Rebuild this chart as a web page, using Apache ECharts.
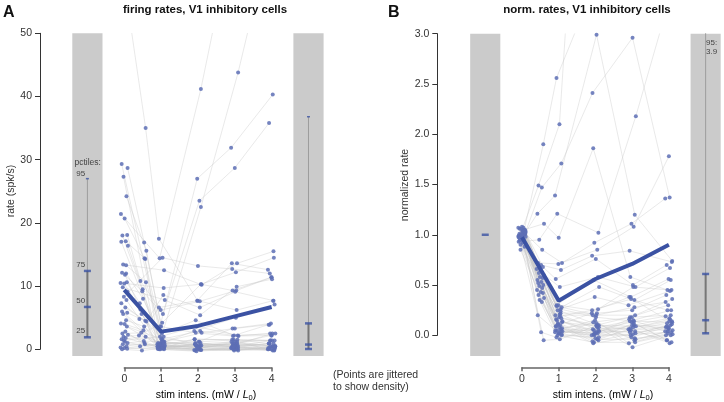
<!DOCTYPE html>
<html>
<head>
<meta charset="utf-8">
<script src="https://cdn.jsdelivr.net/npm/echarts@6/dist/echarts.min.js"></script>
<style>html,body{margin:0;padding:0;background:#fff}#c{width:724px;height:402px}</style>
</head>
<body>
<div id="c"></div>
<script>
// ---------- data ----------
const stimLevels = [0, 0.5, 1, 2, 3, 4];
const xTickLabels = ['0', '1', '2', '3', '4'];
const meanX = [0, 1, 2, 3, 4];

// Panel A: firing rates (spk/s), one entry per cell, per stimulus level
const rateA_0  = [57,29.3,28.7,27.3,24.2,21.4,20.7,18.1,18.0,17.1,17.0,16.4,13.4,13.3,12.1,11.8,10.6,10.5,10.4,9.8,9.1,8.3,7.8,7.3,6.6,6.0,5.8,5.6,4.6,4.1,4.0,3.6,2.5,2.3,2.0,1.8,1.6,1.2,1.0,0.8,0.5,0.3,0.2,0.1,0.0,2.8,1.4,12.0];
const rateA_05 = [35,null,16.9,null,15.6,null,14.4,10.8,null,14.3,null,9.5,null,10.6,9.2,null,7.3,null,6.3,null,5.6,null,4.8,null,4.5,null,4.4,null,3.6,null,3.0,null,2.6,null,2.2,null,2.0,null,1.3,null,1.0,null,0.5,null,-0.2,0.8,null,8.0];
const rateA_1  = [17.5,1.2,2.0,0.8,3.6,14.4,0.4,6.2,0.2,1.0,0.6,0.3,12.5,3.6,5.6,0.1,1.6,9.7,0.0,7.8,0.9,14.5,0.5,2.5,1.2,0.7,8.6,0.4,0.9,0.2,6.6,1.6,0.6,0.1,4.2,0.3,0.9,0.0,1.2,0.5,0.2,0.0,0.8,0.3,0.1,0.6,2.0,1.2];
const rateA_2  = [7.7,0.5,0.8,0.2,2.6,41.2,0.0,7.6,1.6,0.4,-0.1,0.6,10.2,27.0,23.5,0.8,1.2,10.3,-0.3,5.4,2.9,13.2,22.5,4.6,0.6,0.4,6.6,0.0,1.0,-0.1,7.7,2.9,1.6,0.2,10.3,0.6,1.2,-0.2,2.6,0.4,0.0,0.8,0.2,1.0,-0.1,0.2,3.6,0.6];
const rateA_3  = [6.2,0.2,1.2,0.0,2.1,70,-0.2,9.3,1.5,0.4,0.2,0.9,13.6,31.9,28.7,0.6,3.3,12.2,0.0,9.9,5.0,12.7,43.8,2.2,0.9,1.2,9.1,0.4,0.6,0.0,13.6,2.1,1.5,0.9,9.3,0.4,1.5,0.2,3.3,0.0,-0.2,0.6,1.2,0.4,0.0,0.9,2.2,0.4];
const rateA_4  = [7.7,0.9,0.5,0.2,2.5,null,0.0,11.4,1.4,0.9,-0.2,2.2,15.5,40.3,35.8,0.5,4.1,14.5,0.2,11.1,7.1,12.0,67,3.9,0.5,1.4,7.7,0.2,2.5,0.0,12.6,2.2,1.4,0.5,11.4,-0.1,0.9,0.4,3.9,0.2,0.5,0.9,0.0,1.4,-0.2,0.2,2.5,0.0];
const meanA = [9.4, 2.8, 3.7, 5.2, 6.7];

// Panel B: normalized rates
const normB_0  = [1.00,0.98,1.02,0.96,1.05,0.93,1.04,1.01,0.99,1.07,0.97,1.03,0.95,1.00,1.06,0.92,1.02,0.98,1.08,0.90,1.01,0.97,1.04,0.99,1.00,0.94,1.05,0.96,1.02,0.99,1.03,0.88,1.00,0.98,1.06,0.95,1.01,0.97,1.04,0.85,1.00,1.07,0.99,1.02,0.96,1.03,1.00,0.94];
const normB_05 = [1.90,1.49,1.47,1.21,1.11,0.95,0.85,0.72,0.70,0.68,0.66,0.65,0.62,0.60,0.58,0.57,0.55,0.53,0.52,0.50,0.49,0.47,0.45,0.43,0.42,0.40,0.37,0.35,0.33,0.20,0.03,-0.05,null,null,null,null,null,null,null,null,null,null,null,null,null,null,null,null];
const normB_1  = [2.56,2.10,1.71,1.39,0.97,1.21,0.72,0.71,0.65,0.56,0.48,0.30,0.28,0.25,0.22,0.20,0.18,0.17,0.15,0.14,0.12,0.10,0.09,0.08,0.07,0.05,0.04,0.03,0.02,0.00,-0.02,-0.04,0.30,0.26,0.21,0.16,0.13,0.11,0.06,0.05,0.02,0.01,0.29,0.19,0.09,0.04,0.00,0.24];
const normB_2  = [3.5,8.0,2.41,2.99,1.86,1.02,0.92,0.85,0.79,0.76,0.58,0.55,0.48,0.38,0.22,0.20,0.10,0.08,0.05,0.02,0.0,-0.03,-0.05,-0.08,0.12,0.15,0.08,0.03,0.06,-0.02,0.02,0.10,0.25,0.18,0.05,0.01,0.09,-0.06,0.04,0.00,-0.04,0.13,0.20,0.26,0.22,0.02,-0.07,0.10];
const normB_3  = [null,null,2.96,1.2,0.58,2.18,1.11,1.08,0.84,0.50,0.48,0.38,0.35,0.30,0.25,0.20,0.18,0.15,0.13,0.10,0.08,0.05,0.02,-0.02,-0.05,-0.08,-0.12,0.04,0.07,0.12,0.16,0.09,0.36,0.14,0.03,0.01,-0.03,0.06,0.10,0.00,-0.04,0.18,0.28,0.38,0.48,0.14,-0.07,0.05];
const normB_4  = [null,null,1.37,0.74,0.45,3.4,1.36,1.78,0.73,0.70,0.67,0.56,0.55,0.44,0.40,0.36,0.30,0.25,0.19,0.17,0.14,0.12,0.10,0.08,0.05,0.02,0.00,-0.05,-0.08,-0.07,0.04,0.07,0.25,0.13,0.06,0.03,0.0,0.16,0.09,0.11,0.04,0.20,0.33,0.14,0.45,-0.05,0.01,0.08];
const meanB = [0.975, 0.344, 0.56, 0.71, 0.90];

// jitter offsets (x) used to spread points
const jitter = [0.03,-0.07,0.09,-0.02,0.06,-0.09,0.01,0.08,-0.05,0.04,-0.08,0.10,-0.03,0.05,-0.06,0.02,0.07,-0.10,0.00,-0.04,0.09,-0.01,0.06,-0.08,0.03,-0.06,0.08,-0.03,0.05,-0.09,0.01,0.07,-0.05,0.10,-0.02,0.04,-0.07,0.02,0.09,-0.04,0.06,-0.10,0.00,0.08,-0.06,0.03,-0.01,0.05];

// percentiles (95, 75, 50, 25)
const pctLabels = ['95', '75', '50', '25'];
const pctA_left  = [27.0, 12.4, 6.7, 1.9];
const pctA_right = [36.8, 4.1, 0.75, 0.05];
const pctB_left  = [1.0, 1.0, 1.0, 1.0];
const pctB_right = [3.9, 0.61, 0.15, 0.02];

// ---------- build ----------
const FONT = 'Liberation Sans, Arial, sans-serif';
const BLUE = '#3b52a3';
const PT = '#5d6fb5';
const chart = echarts.init(document.getElementById('c'), null, {renderer: 'canvas'});

function cellLayers(cols, axIdx) {
  const out = [];
  const pts = [];
  const n = cols[0].length;
  for (let i = 0; i < n; i++) {
    const line = [];
    for (let k = 0; k < cols.length; k++) {
      const v = cols[k][i];
      if (v === null || v === undefined) continue;
      const p = [stimLevels[k] + jitter[(i + 7 * k) % jitter.length], v];
      line.push(p); pts.push(p);
    }
    out.push({type: 'line', xAxisIndex: axIdx, yAxisIndex: axIdx, data: line, symbol: 'none',
      lineStyle: {color: '#c8c8c8', width: 0.5, opacity: 0.8}, silent: true, z: 3, clip: true});
  }
  out.push({type: 'scatter', xAxisIndex: axIdx, yAxisIndex: axIdx, data: pts, symbolSize: 4,
    itemStyle: {color: PT, opacity: 0.85}, silent: true, z: 4, clip: true});
  return out;
}

function panelRects(axIdx, yLo, yHi) {
  return {type: 'custom', xAxisIndex: axIdx, yAxisIndex: axIdx, silent: true, z: 1,
    data: [[-1.41, -0.59, yLo, yHi], [4.59, 5.41, yLo, yHi]],
    renderItem: (params, api) => {
      const a = api.coord([api.value(0), api.value(3)]);
      const b = api.coord([api.value(1), api.value(2)]);
      return {type: 'rect', shape: {x: a[0], y: a[1], width: b[0] - a[0], height: b[1] - a[1]}, style: {fill: '#cbcbcb'}};
    }};
}

function pctBar(axIdx, cx, p, drawLine) {
  const s = [];
  if (drawLine) {
    s.push({type: 'line', xAxisIndex: axIdx, yAxisIndex: axIdx, data: [[cx, p[0]], [cx, p[3]]], symbol: 'none',
      lineStyle: {color: '#9c9c9c', width: 1}, silent: true, z: 5, clip: true});
    s.push({type: 'line', xAxisIndex: axIdx, yAxisIndex: axIdx, data: [[cx, p[1]], [cx, p[3]]], symbol: 'none',
      lineStyle: {color: '#777', width: 2}, silent: true, z: 5, clip: true});
  }
  s.push({type: 'scatter', xAxisIndex: axIdx, yAxisIndex: axIdx, data: [[cx, p[0]]], symbol: 'rect',
    symbolSize: [3, 1.5], itemStyle: {color: BLUE}, silent: true, z: 6, clip: true});
  s.push({type: 'scatter', xAxisIndex: axIdx, yAxisIndex: axIdx, data: p.slice(1).map(v => [cx, v]), symbol: 'rect',
    symbolSize: [7, 2.5], itemStyle: {color: BLUE}, silent: true, z: 6, clip: true});
  return s;
}

const series = [];
series.push(panelRects(0, -1.06, 50));
series.push(panelRects(3, -0.206, 3));
series.push(...cellLayers([rateA_0, rateA_05, rateA_1, rateA_2, rateA_3, rateA_4], 0));
series.push(...cellLayers([normB_0, normB_05, normB_1, normB_2, normB_3, normB_4], 3));
series.push({type: 'line', xAxisIndex: 0, yAxisIndex: 0, data: meanX.map((x, i) => [x, meanA[i]]), symbol: 'none',
  lineStyle: {color: BLUE, width: 4}, z: 7, silent: true});
series.push({type: 'line', xAxisIndex: 3, yAxisIndex: 3, data: meanX.map((x, i) => [x, meanB[i]]), symbol: 'none',
  lineStyle: {color: BLUE, width: 4}, z: 7, silent: true});
series.push(...pctBar(0, -1.0, pctA_left, true));
series.push(...pctBar(0, 5.0, pctA_right, true));
series.push({type: 'scatter', xAxisIndex: 3, yAxisIndex: 3, data: [[-1.0, pctB_left[1]]], symbol: 'rect',
  symbolSize: [7, 2.5], itemStyle: {color: BLUE}, silent: true, z: 6});
series.push(...pctBar(3, 5.0, pctB_right, true));

const hiddenX = (min, max, g) => ({type: 'value', gridIndex: g, min, max, show: false});
const hiddenY = (min, max, g) => ({type: 'value', gridIndex: g, min, max, show: false});
const axCol = '#333';
const shownY = (g, max, interval, fmt) => ({type: 'value', gridIndex: g, min: 0, max, interval,
  axisLine: {show: true, lineStyle: {color: axCol, width: 1}},
  axisTick: {show: true, length: 5, lineStyle: {color: axCol, width: 1}},
  axisLabel: {fontSize: 10.5, color: '#333', margin: 8, fontFamily: FONT, formatter: fmt},
  splitLine: {show: false}});
const shownX = (g) => ({type: 'value', gridIndex: g, min: 0, max: 4, interval: 1, position: 'bottom',
  axisLine: {show: true, onZero: false, lineStyle: {color: '#666', width: 1.5}},
  axisTick: {show: true, length: 4, lineStyle: {color: '#666', width: 1.5}},
  axisLabel: {fontSize: 10.5, color: '#333', margin: 6, fontFamily: FONT, formatter: v => xTickLabels[v]},
  splitLine: {show: false}});

const txt = (x, y, text, opts) => ({type: 'text', x, y, z: 100, rotation: (opts && opts.rot) || 0, silent: true,
  style: Object.assign({text, fill: '#333', fontSize: 10.5, fontFamily: FONT, align: 'left', verticalAlign: 'middle'}, (opts && opts.style) || {})});

const xTitleRich = {
  n: {fontSize: 10.5, fontFamily: FONT, color: '#333', lineHeight: 14},
  i: {fontSize: 10.5, fontFamily: FONT, fontStyle: 'italic', color: '#333', lineHeight: 14},
  s: {fontSize: 7.5, fontFamily: FONT, color: '#333', lineHeight: 8, verticalAlign: 'bottom'}
};
const xTitle = '{n|stim intens. (mW / }{i|L}{s|0}{n|)}';

const graphics = [
  txt(3, 13, 'A', {style: {fontSize: 16, fontWeight: 'bold', fill: '#111'}}),
  txt(388, 13, 'B', {style: {fontSize: 16, fontWeight: 'bold', fill: '#111'}}),
  txt(205, 10, 'firing rates, V1 inhibitory cells', {style: {fontSize: 11.5, fontWeight: 'bold', fill: '#111', align: 'center'}}),
  txt(587, 10, 'norm. rates, V1 inhibitory cells', {style: {fontSize: 11.5, fontWeight: 'bold', fill: '#111', align: 'center'}}),
  txt(11, 191, 'rate (spk/s)', {rot: Math.PI / 2, style: {align: 'center'}}),
  txt(405, 185, 'normalized rate', {rot: Math.PI / 2, style: {align: 'center'}}),
  {type: 'text', x: 206, y: 395, z: 100, silent: true, style: {text: xTitle, rich: xTitleRich, align: 'center', verticalAlign: 'middle'}},
  {type: 'text', x: 603, y: 395, z: 100, silent: true, style: {text: xTitle, rich: xTitleRich, align: 'center', verticalAlign: 'middle'}},
  txt(333, 375.5, '(Points are jittered'),
  txt(333, 387.5, 'to show density)'),
  txt(87.7, 163, 'pctiles:', {style: {fontSize: 8.5, align: 'center', fill: '#444'}}),
  txt(80.7, 173.5, pctLabels[0], {style: {fontSize: 8, align: 'center', fill: '#444'}}),
  txt(80.7, 265, pctLabels[1], {style: {fontSize: 8, align: 'center', fill: '#444'}}),
  txt(80.7, 301, pctLabels[2], {style: {fontSize: 8, align: 'center', fill: '#444'}}),
  txt(80.7, 331, pctLabels[3], {style: {fontSize: 8, align: 'center', fill: '#444'}}),
  txt(706, 42.7, pctLabels[0] + ':', {style: {fontSize: 8, fill: '#444'}}),
  txt(706, 52, String(pctB_right[0]), {style: {fontSize: 8, fill: '#444'}})
];

chart.setOption({
  animation: false,
  backgroundColor: '#fff',
  textStyle: {fontFamily: FONT},
  grid: [
    {left: 39.5, top: 33.3, width: 291.1, height: 322.7},
    {left: 40, top: 33.3, width: 10, height: 316},
    {left: 124.3, top: 350, width: 147.4, height: 17.5},
    {left: 437.5, top: 33.7, width: 286.65, height: 322.3},
    {left: 437.3, top: 33.7, width: 10, height: 301.6},
    {left: 522, top: 350, width: 147, height: 17.3}
  ],
  xAxis: [
    hiddenX(-2.3, 5.6, 0),
    hiddenX(0, 1, 1),
    shownX(2),
    hiddenX(-2.3, 5.5, 3),
    hiddenX(0, 1, 4),
    shownX(5)
  ],
  yAxis: [
    hiddenY(-1.06, 50, 0),
    shownY(1, 50, 10),
    hiddenY(0, 1, 2),
    hiddenY(-0.206, 3, 3),
    shownY(4, 3, 0.5, v => v.toFixed(1)),
    hiddenY(0, 1, 5)
  ],
  series,
  graphic: graphics
});
</script>
</body>
</html>
